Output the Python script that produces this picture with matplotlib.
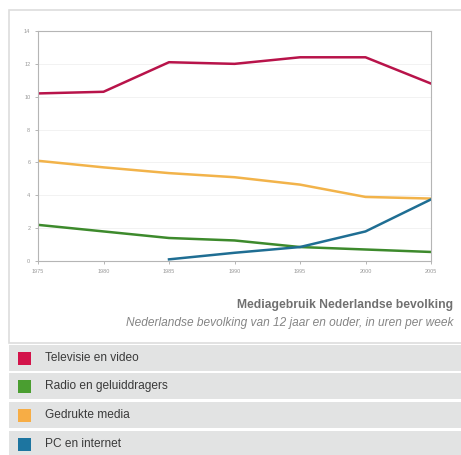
import matplotlib.pyplot as plt
from matplotlib.patches import Rectangle

# Mediagebruik Nederlandse bevolking, uren per week
years = [1975, 1980, 1985, 1990, 1995, 2000, 2005]
tv = [10.2, 10.3, 12.1, 12.0, 12.4, 12.4, 10.8]
radio = [2.2, 1.8, 1.4, 1.25, 0.85, 0.7, 0.55]
print_media = [6.1, 5.7, 5.35, 5.1, 4.65, 3.9, 3.8]
pc_years = [1985, 1990, 1995, 2000, 2005]
pc = [0.1, 0.5, 0.85, 1.8, 3.75]

labels = ["Televisie en video", "Radio en geluiddragers", "Gedrukte media", "PC en internet"]
line_colors = ["#b8134a", "#3d8a2c", "#f2b34a", "#1f6e93"]
box_colors = ["#d3134a", "#4a9e30", "#f7ad45", "#1d75a0"]

plt.rcParams["font.family"] = ["Liberation Sans", "DejaVu Sans"]

fig = plt.figure(figsize=(4.61, 4.55), dpi=100)
fig.patch.set_facecolor("white")

# white panel with light border
fig.patches.append(Rectangle((9 / 461, 1 - 343 / 455), 460 / 461, 333 / 455,
                             transform=fig.transFigure, facecolor="white",
                             edgecolor="#dddddd", linewidth=1.2, zorder=0))

ax = fig.add_axes([38 / 461, 1 - 261 / 455, 393 / 461, 230 / 455])
ax.set_zorder(3)
ax.plot(years, tv, color=line_colors[0], lw=1.8)
ax.plot(years, radio, color=line_colors[1], lw=1.8)
ax.plot(years, print_media, color=line_colors[2], lw=1.8)
ax.plot(pc_years, pc, color=line_colors[3], lw=1.8)

ax.set_xlim(1975, 2005)
ax.set_ylim(0, 14)
ax.set_xticks(years)
ax.set_yticks(range(0, 15, 2))
ax.tick_params(labelsize=4, colors="#999999", length=2, width=0.5)
ax.grid(axis="y", color="#f0f0f0", lw=0.6)
ax.set_axisbelow(True)
for s in ax.spines.values():
    s.set_color("#b5b5b5")
    s.set_linewidth(0.8)

fig.text(453 / 461, 1 - 305 / 455, "Mediagebruik Nederlandse bevolking",
         ha="right", va="center", fontsize=8.7, fontweight="bold", color="#707070")
fig.text(453 / 461, 1 - 323 / 455, "Nederlandse bevolking van 12 jaar en ouder, in uren per week",
         ha="right", va="center", fontsize=8.6, style="italic", color="#858585")

# legend rows
row_tops = [345, 373, 402, 431]
for top, lab, c in zip(row_tops, labels, box_colors):
    h = 26
    fig.patches.append(Rectangle((9 / 461, 1 - (top + h) / 455), 452 / 461, h / 455,
                                 transform=fig.transFigure, facecolor="#e2e3e3",
                                 edgecolor="none", zorder=0))
    cy = top + h / 2
    fig.patches.append(Rectangle((18 / 461, 1 - (cy + 6.5) / 455), 13 / 461, 13 / 455,
                                 transform=fig.transFigure, facecolor=c,
                                 edgecolor="none", zorder=1))
    fig.text(45 / 461, 1 - cy / 455, lab, ha="left", va="center",
             fontsize=8.6, color="#3a3a3a")

fig.savefig("out.png", dpi=100)
